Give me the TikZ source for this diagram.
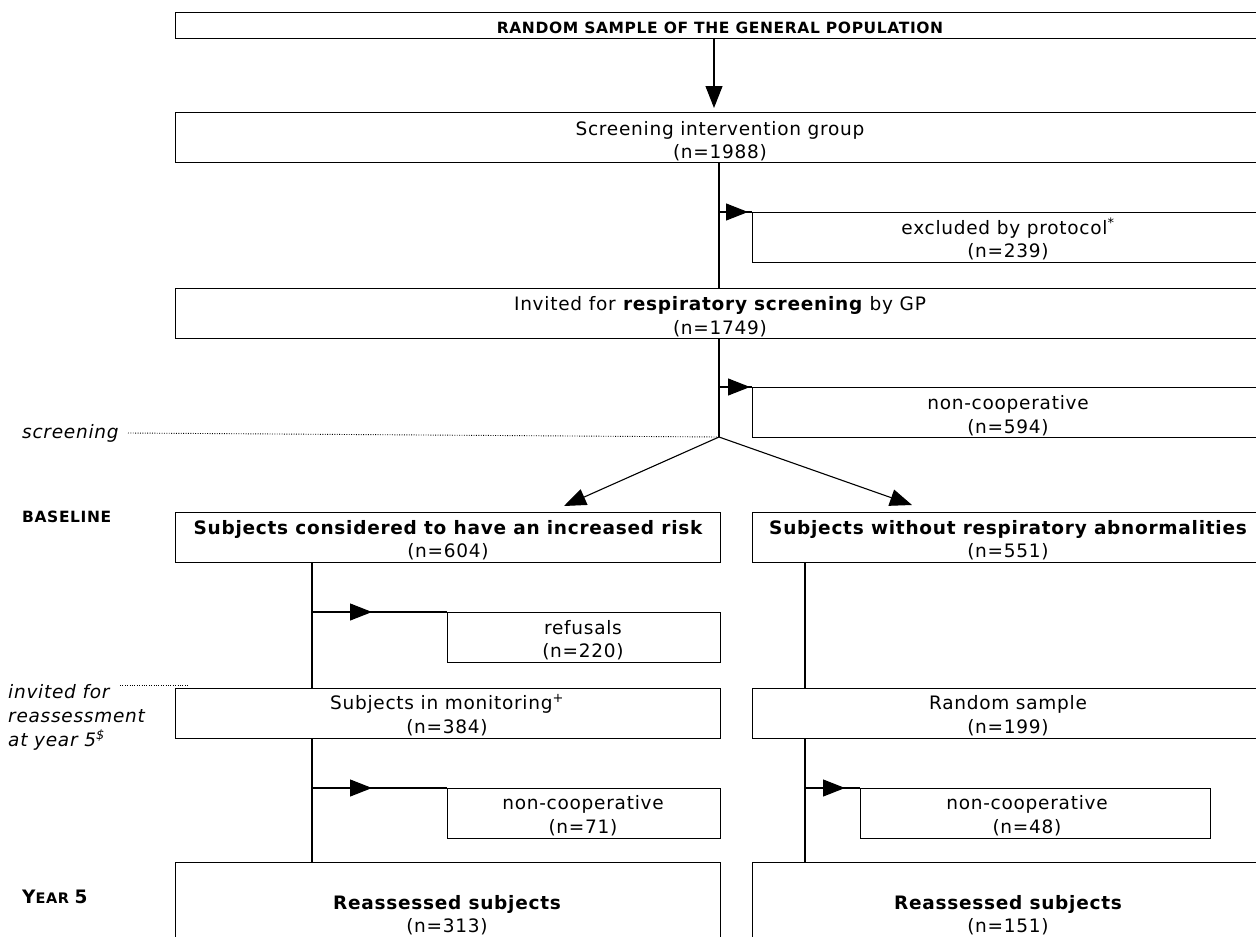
\documentclass[tikz,border=0pt]{standalone}
\usepackage{fontspec}
\setmainfont{DejaVu Sans}[LetterSpace=4]
\usetikzlibrary{arrows.meta}
\tikzset{
  box/.style={draw, line width=1.1pt, fill=white, inner sep=0pt, anchor=north west},
  txt/.style={anchor=base, inner sep=0pt, font=\fontsize{18.5}{22}\selectfont},
  ttl/.style={anchor=base, inner sep=0pt, font=\fontsize{15.5}{18}\selectfont\bfseries},
  side/.style={anchor=base west, inner sep=0pt, font=\fontsize{18.5}{22}\selectfont\itshape},
  conn/.style={line width=1.1pt},
  arr/.style={line width=1.1pt, -{Triangle[length=22pt,width=17pt]}},
  dots/.style={line width=0.9pt, dash pattern=on 0.9pt off 1.5pt}
}
\begin{document}
\begin{tikzpicture}[x=1pt,y=-1pt]
\useasboundingbox (0,0) rectangle (1256,937);
\clip (0,0) rectangle (1256,937);
\fill[white] (0,0) rectangle (1256,937);
% coordinates
\coordinate (ctop) at (714,0);
\coordinate (split) at (719,437);
\coordinate (lx) at (312,0);
\coordinate (rx) at (805,0);
\coordinate (ltip) at (564,506);
\coordinate (rtip) at (912,505);
% connector lines drawn first (behind boxes)
\draw[conn] (719,162) -- (split);
\draw[conn] (312,562) -- (312,862);
\draw[conn] (805,562) -- (805,862);
% boxes
\node[box, minimum width=1090pt, minimum height=26pt] (b1) at (175,12) {};
\node[box, minimum width=1090pt, minimum height=50pt] (b2) at (175,112) {};
\node[box, minimum width=513pt, minimum height=50pt] (bex) at (752,212) {};
\node[box, minimum width=1090pt, minimum height=50pt] (b3) at (175,288) {};
\node[box, minimum width=513pt, minimum height=50pt] (bnc1) at (752,387) {};
\node[box, minimum width=545pt, minimum height=50pt] (bL) at (175,512) {};
\node[box, minimum width=513pt, minimum height=50pt] (bR) at (752,512) {};
\node[box, minimum width=273pt, minimum height=50pt] (bref) at (447,612) {};
\node[box, minimum width=545pt, minimum height=50pt] (bmon) at (175,688) {};
\node[box, minimum width=513pt, minimum height=50pt] (brand) at (752,688) {};
\node[box, minimum width=273pt, minimum height=50pt] (bnc2) at (447,788) {};
\node[box, minimum width=350pt, minimum height=50pt] (bnc3) at (860,788) {};
\node[box, minimum width=545pt, minimum height=100pt] (bre1) at (175,862) {};
\node[box, minimum width=513pt, minimum height=100pt] (bre2) at (752,862) {};
% texts
\node[ttl] (t1) at (720,33) {RANDOM SAMPLE OF THE GENERAL POPULATION};
\node[txt] (t2a) at (720,135) {Screening intervention group};
\node[txt] (t2b) at (720,158) {(n=1988)};
\node[txt] (texa) at (1008,234) {excluded by protocol\textsuperscript{*}};
\node[txt] (texb) at (1008,257) {(n=239)};
\node[txt] (t3a) at (720,310) {Invited for \textbf{respiratory screening} by GP};
\node[txt] (t3b) at (720,334) {(n=1749)};
\node[txt] (tnc1a) at (1008,409) {non-cooperative};
\node[txt] (tnc1b) at (1008,433) {(n=594)};
\node[txt, font=\fontsize{18.5}{22}\selectfont\bfseries] (tLa) at (448,534) {Subjects considered to have an increased risk};
\node[txt] (tLb) at (448,557) {(n=604)};
\node[txt, font=\fontsize{18.5}{22}\selectfont\bfseries] (tRa) at (1008,534) {Subjects without respiratory abnormalities};
\node[txt] (tRb) at (1008,557) {(n=551)};
\node[txt] (trefa) at (583,634) {refusals};
\node[txt] (trefb) at (583,657) {(n=220)};
\node[txt] (tmona) at (447,709) {Subjects in monitoring\textsuperscript{+}};
\node[txt] (tmonb) at (447,733) {(n=384)};
\node[txt] (tranda) at (1008,709) {Random sample};
\node[txt] (trandb) at (1008,733) {(n=199)};
\node[txt] (tnc2a) at (583,809) {non-cooperative};
\node[txt] (tnc2b) at (583,833) {(n=71)};
\node[txt] (tnc3a) at (1027,809) {non-cooperative};
\node[txt] (tnc3b) at (1027,833) {(n=48)};
\node[txt, font=\fontsize{18.5}{22}\selectfont\bfseries] (tre1a) at (447,909) {Reassessed subjects};
\node[txt] (tre1b) at (447,932) {(n=313)};
\node[txt, font=\fontsize{18.5}{22}\selectfont\bfseries] (tre2a) at (1008,909) {Reassessed subjects};
\node[txt] (tre2b) at (1008,932) {(n=151)};
% side labels
\node[side] (lscr) at (22,438) {screening};
\draw[dots] (128,433) -- (split);
\node[ttl, anchor=base west] (lbase) at (22,522) {BASELINE};
\node[side] (linv1) at (8,698) {invited for};
\node[side] (linv2) at (8,722) {reassessment};
\node[side] (linv3) at (8,746) {at year 5\textsuperscript{\$}};
\coordinate (dotend) at (188,685);
\draw[dots] (120,685) -- (dotend);
\node[side, font=\bfseries] (lyear) at (22,903) {\fontsize{18.5}{22}\selectfont Y\fontsize{14.5}{17}\selectfont EAR \fontsize{18.5}{22}\selectfont 5};
% arrows
\draw[arr, shorten >=4pt] (b1.south -| ctop) -- (b2.north -| ctop);
\draw[conn] (bex.north west -| split) -- (bex.north west);
\draw[arr] (bex.north west -| split) -- ++(29,0);
\draw[conn] (bnc1.north west -| split) -- (bnc1.north west);
\draw[arr] (bnc1.north west -| split) -- ++(31,0);
\draw[arr] (split) -- (ltip);
\draw[arr] (split) -- (rtip);
\draw[conn] (bref.north west -| lx) -- (bref.north west);
\draw[arr] (bref.north west -| lx) -- ++(60,0);
\draw[conn] (bnc2.north west -| lx) -- (bnc2.north west);
\draw[arr] (bnc2.north west -| lx) -- ++(60,0);
\draw[conn] (bnc3.north west -| rx) -- (bnc3.north west);
\draw[arr] (bnc3.north west -| rx) -- ++(40,0);
\end{tikzpicture}
\end{document}
